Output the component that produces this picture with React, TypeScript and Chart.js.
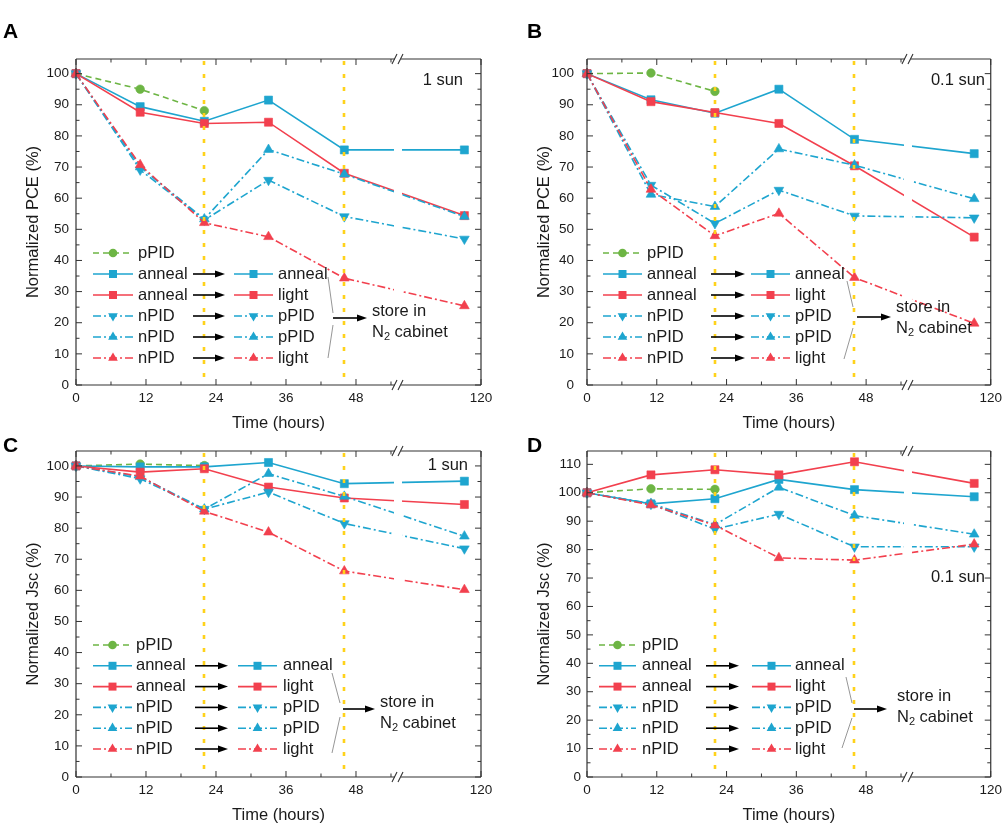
import React, { useEffect, useRef } from "react";
import { Chart, registerables } from "chart.js";
Chart.register(...registerables);

const FONT = "'Liberation Sans', Arial, Helvetica, sans-serif";
const BLUE = "#1EA5CF";
const RED = "#F2404E";
const GREEN = "#6DB544";
const YELLOW = "#FFD21A";
const INK = "#1a1a1a";

// ---------- data ----------
const TIME_H = [0, 11, 22, 33, 46, 118];
const TIME_PPID_H = [0, 11, 22];
const STORAGE_MARKS_H = [22, 46];
const X_TICK_HOURS = [0, 12, 24, 36, 48, 120];
const X_TICK_LABELS = ["0", "12", "24", "36", "48", "120"];
const X_MINOR_HOURS = [6, 18, 30, 42, 54];
const LEGEND_LEFT = ["pPID", "anneal", "anneal", "nPID", "nPID", "nPID"];
const LEGEND_RIGHT = ["", "anneal", "light", "pPID", "pPID", "light"];

// A: normalized PCE, 1 sun
const A_PPID = [100, 95.0, 88.1];
const A_ANNEAL_ANNEAL = [100, 89.4, 84.7, 91.5, 75.5, 75.5];
const A_ANNEAL_LIGHT = [100, 87.6, 84.0, 84.4, 68.0, 54.4];
const A_NPID_PPID_DOWN = [100, 69.1, 53.0, 65.8, 54.1, 46.9];
const A_NPID_PPID_UP = [100, 70.0, 53.3, 75.6, 67.7, 54.1];
const A_NPID_LIGHT = [100, 70.7, 52.1, 47.6, 34.3, 25.4];

// B: normalized PCE, 0.1 sun
const B_PPID = [100, 100.2, 94.3];
const B_ANNEAL_ANNEAL = [100, 91.6, 87.3, 95.0, 78.9, 74.3];
const B_ANNEAL_LIGHT = [100, 91.0, 87.5, 84.0, 70.4, 47.5];
const B_NPID_PPID_DOWN = [100, 64.2, 51.9, 62.6, 54.3, 53.7];
const B_NPID_PPID_UP = [100, 61.2, 57.3, 75.8, 70.6, 59.8];
const B_NPID_LIGHT = [100, 62.8, 47.9, 55.1, 34.5, 19.8];

// C: normalized Jsc, 1 sun
const C_PPID = [100, 100.6, 100.1];
const C_ANNEAL_ANNEAL = [100, 99.7, 99.7, 101.1, 94.3, 95.1];
const C_ANNEAL_LIGHT = [100, 98.0, 99.1, 93.2, 89.7, 87.6];
const C_NPID_PPID_DOWN = [100, 95.9, 86.1, 91.6, 81.5, 73.4];
const C_NPID_PPID_UP = [100, 96.5, 86.1, 97.5, 90.2, 77.4];
const C_NPID_LIGHT = [100, 96.7, 85.4, 78.7, 66.2, 60.2];

// D: normalized Jsc, 0.1 sun
const D_PPID = [100, 101.4, 101.2];
const D_ANNEAL_ANNEAL = [100, 96.1, 97.9, 104.7, 101.1, 98.6];
const D_ANNEAL_LIGHT = [100, 106.3, 108.1, 106.3, 110.9, 103.3];
const D_NPID_PPID_DOWN = [100, 96.0, 87.2, 92.5, 81.0, 81.0];
const D_NPID_PPID_UP = [100, 96.2, 88.8, 101.9, 92.0, 85.4];
const D_NPID_LIGHT = [100, 95.7, 88.6, 77.1, 76.3, 81.9];

// ---------- broken time axis ----------
const BREAK_DISPLAY = 55.2;
const SEG2_FROM = 110;
const SEG2_TO = 120;
const X_DISPLAY_MAX = 69.43;
function toAxis(t: number) {
  if (t <= BREAK_DISPLAY) return t;
  return BREAK_DISPLAY + ((t - SEG2_FROM) * (X_DISPLAY_MAX - BREAK_DISPLAY)) / (SEG2_TO - SEG2_FROM);
}

const SERIES_STYLE = [
  { color: GREEN, dash: [6, 4], marker: "circle" },
  { color: BLUE, dash: [], marker: "square" },
  { color: RED, dash: [], marker: "square" },
  { color: BLUE, dash: [8, 3, 2, 3], marker: "down" },
  { color: BLUE, dash: [8, 3, 2, 3], marker: "up" },
  { color: RED, dash: [8, 3, 2, 3], marker: "up" },
];

const PANELS = [
  {
    key: "A", left: 0, top: 0, w: 504, h: 440, plotL: 76, plotT: 59, plotR: 481, plotB: 385,
    yMax: 104.7, yTopTick: 100, yTitle: "Normalized PCE (%)", tickPad: 7, yTitlePad: 24,
    sun: "1 sun", sunX: 463, sunY: 80, letterX: 3, letterY: 38,
    lg: { y0: 253, dy: 21, s1: [93, 133], t1: 138, arr: [193, 225], s2: [234, 273], t2: 278,
      bu: [328, 277, 333, 313], bl: [333, 325, 328, 358], a2: [333, 367, 318], tx: 372, ty1: 311, ty2: 332 },
    series: [A_PPID, A_ANNEAL_ANNEAL, A_ANNEAL_LIGHT, A_NPID_PPID_DOWN, A_NPID_PPID_UP, A_NPID_LIGHT],
  },
  {
    key: "B", left: 504, top: 0, w: 503, h: 440, plotL: 83, plotT: 59, plotR: 489, plotB: 385,
    yMax: 104.7, yTopTick: 100, yTitle: "Normalized PCE (%)", tickPad: 13, yTitlePad: 31,
    sun: "0.1 sun", sunX: 481, sunY: 80, letterX: 23, letterY: 38,
    lg: { y0: 253, dy: 21, s1: [99, 138], t1: 143, arr: [207, 241], s2: [247, 286], t2: 291,
      bu: [343, 281, 349, 307], bl: [349, 328, 340, 359], a2: [353, 387, 317], tx: 392, ty1: 307, ty2: 328 },
    series: [B_PPID, B_ANNEAL_ANNEAL, B_ANNEAL_LIGHT, B_NPID_PPID_DOWN, B_NPID_PPID_UP, B_NPID_LIGHT],
  },
  {
    key: "C", left: 0, top: 410, w: 504, h: 419, plotL: 76, plotT: 41, plotR: 481, plotB: 367,
    yMax: 104.8, yTopTick: 100, yTitle: "Normalized Jsc (%)", tickPad: 7, yTitlePad: 24,
    sun: "1 sun", sunX: 468, sunY: 55, letterX: 3, letterY: 42,
    lg: { y0: 235, dy: 20.8, s1: [93, 132], t1: 136, arr: [195, 228], s2: [238, 277], t2: 283,
      bu: [332, 263, 340, 293], bl: [340, 307, 332, 343], a2: [343, 375, 299], tx: 380, ty1: 292, ty2: 313 },
    series: [C_PPID, C_ANNEAL_ANNEAL, C_ANNEAL_LIGHT, C_NPID_PPID_DOWN, C_NPID_PPID_UP, C_NPID_LIGHT],
  },
  {
    key: "D", left: 504, top: 410, w: 503, h: 419, plotL: 83, plotT: 41, plotR: 489, plotB: 367,
    yMax: 114.7, yTopTick: 110, yTitle: "Normalized Jsc (%)", tickPad: 6, yTitlePad: 31,
    sun: "0.1 sun", sunX: 481, sunY: 167, letterX: 23, letterY: 42,
    lg: { y0: 235, dy: 20.8, s1: [95, 132], t1: 138, arr: [202, 235], s2: [248, 287], t2: 291,
      bu: [342, 267, 348, 293], bl: [348, 308, 338, 338], a2: [350, 383, 299], tx: 393, ty1: 286, ty2: 307 },
    series: [D_PPID, D_ANNEAL_ANNEAL, D_ANNEAL_LIGHT, D_NPID_PPID_DOWN, D_NPID_PPID_UP, D_NPID_LIGHT],
  },
];

const X_AXIS_H = 50;
const LABEL_SIZE = 16.5;
const TICK_SIZE = 13.5;

function drawMarker(ctx: CanvasRenderingContext2D, kind: string, x: number, y: number, color: string) {
  ctx.save();
  ctx.fillStyle = color;
  ctx.setLineDash([]);
  ctx.beginPath();
  if (kind === "circle") {
    ctx.arc(x, y, 4.3, 0, Math.PI * 2);
  } else if (kind === "square") {
    ctx.rect(x - 4, y - 4, 8, 8);
  } else if (kind === "up") {
    const r = 5.6;
    ctx.moveTo(x, y - r);
    ctx.lineTo(x + r * 0.866, y + r / 2);
    ctx.lineTo(x - r * 0.866, y + r / 2);
    ctx.closePath();
  } else {
    const r = 5.6;
    ctx.moveTo(x, y + r);
    ctx.lineTo(x + r * 0.866, y - r / 2);
    ctx.lineTo(x - r * 0.866, y - r / 2);
    ctx.closePath();
  }
  ctx.fill();
  ctx.restore();
}

function drawSample(ctx: CanvasRenderingContext2D, i: number, x1: number, x2: number, y: number) {
  const st = SERIES_STYLE[i];
  ctx.save();
  ctx.strokeStyle = st.color;
  ctx.lineWidth = 1.6;
  ctx.setLineDash(st.dash);
  ctx.beginPath();
  ctx.moveTo(x1, y);
  ctx.lineTo(x2, y);
  ctx.stroke();
  ctx.restore();
  drawMarker(ctx, st.marker, (x1 + x2) / 2, y, st.color);
}

function drawArrow(ctx: CanvasRenderingContext2D, x1: number, x2: number, y: number) {
  ctx.save();
  ctx.strokeStyle = "#000";
  ctx.fillStyle = "#000";
  ctx.lineWidth = 1.6;
  ctx.setLineDash([]);
  ctx.beginPath();
  ctx.moveTo(x1, y);
  ctx.lineTo(x2 - 8, y);
  ctx.stroke();
  ctx.beginPath();
  ctx.moveTo(x2, y);
  ctx.lineTo(x2 - 10, y - 3.5);
  ctx.lineTo(x2 - 10, y + 3.5);
  ctx.closePath();
  ctx.fill();
  ctx.restore();
}

function makePlugin(p: any) {
  return {
    id: "panelDeco" + p.key,
    afterDatasetsDraw(chart: any) {
      const { ctx, chartArea: ca } = chart;
      const x = chart.scales.x;
      const y = chart.scales.y;
      ctx.save();
      // storage marks (dotted yellow)
      ctx.strokeStyle = YELLOW;
      ctx.lineWidth = 2.6;
      ctx.setLineDash([4, 9]);
      for (const t of STORAGE_MARKS_H) {
        const px = Math.round(x.getPixelForValue(toAxis(t)));
        ctx.beginPath();
        ctx.moveTo(px, ca.top + 2);
        ctx.lineTo(px, ca.bottom);
        ctx.stroke();
      }
      ctx.setLineDash([]);
      // axis break mask
      const bx = x.getPixelForValue(BREAK_DISPLAY);
      ctx.fillStyle = "#fff";
      ctx.fillRect(bx - 4, ca.top + 1, 8, ca.bottom - ca.top - 2);
      // frame
      ctx.strokeStyle = "#333";
      ctx.lineWidth = 1.2;
      ctx.beginPath();
      ctx.moveTo(ca.left, ca.top);
      ctx.lineTo(ca.left, ca.bottom);
      ctx.moveTo(ca.right, ca.top);
      ctx.lineTo(ca.right, ca.bottom);
      for (const yy of [ca.top, ca.bottom]) {
        ctx.moveTo(ca.left, yy);
        ctx.lineTo(bx - 3, yy);
        ctx.moveTo(bx + 3, yy);
        ctx.lineTo(ca.right, yy);
      }
      ctx.stroke();
      // break slashes
      ctx.lineWidth = 1.1;
      ctx.beginPath();
      for (const yy of [ca.top, ca.bottom]) {
        ctx.moveTo(bx - 6, yy + 5);
        ctx.lineTo(bx - 1, yy - 5);
        ctx.moveTo(bx, yy + 5);
        ctx.lineTo(bx + 5, yy - 5);
      }
      ctx.stroke();
      // inward ticks
      ctx.lineWidth = 1;
      ctx.beginPath();
      const xt = (h: number, len: number) => {
        const px = x.getPixelForValue(toAxis(h));
        ctx.moveTo(px, ca.bottom);
        ctx.lineTo(px, ca.bottom - len);
        ctx.moveTo(px, ca.top);
        ctx.lineTo(px, ca.top + len);
      };
      X_TICK_HOURS.forEach((h) => xt(h, 6));
      X_MINOR_HOURS.forEach((h) => xt(h, 3.5));
      for (let v = 0; v <= p.yMax; v += 5) {
        const py = y.getPixelForValue(v);
        const len = v % 10 === 0 ? 6 : 3.5;
        ctx.moveTo(ca.left, py);
        ctx.lineTo(ca.left + len, py);
        ctx.moveTo(ca.right, py);
        ctx.lineTo(ca.right - len, py);
      }
      ctx.stroke();
      ctx.restore();
    },
    afterDraw(chart: any) {
      const { ctx } = chart;
      const lg = p.lg;
      ctx.save();
      ctx.fillStyle = INK;
      ctx.textBaseline = "middle";
      ctx.textAlign = "left";
      ctx.font = `${LABEL_SIZE}px ${FONT}`;
      for (let i = 0; i < 6; i++) {
        const yy = lg.y0 + i * lg.dy;
        drawSample(ctx, i, lg.s1[0], lg.s1[1], yy);
        ctx.fillStyle = INK;
        ctx.fillText(LEGEND_LEFT[i], lg.t1, yy);
        if (LEGEND_RIGHT[i]) {
          drawArrow(ctx, lg.arr[0], lg.arr[1], yy);
          drawSample(ctx, i, lg.s2[0], lg.s2[1], yy);
          ctx.fillStyle = INK;
          ctx.fillText(LEGEND_RIGHT[i], lg.t2, yy);
        }
      }
      // bracket
      ctx.strokeStyle = "#8a8a8a";
      ctx.lineWidth = 0.9;
      ctx.beginPath();
      ctx.moveTo(lg.bu[0], lg.bu[1]);
      ctx.lineTo(lg.bu[2], lg.bu[3]);
      ctx.moveTo(lg.bl[0], lg.bl[1]);
      ctx.lineTo(lg.bl[2], lg.bl[3]);
      ctx.stroke();
      drawArrow(ctx, lg.a2[0], lg.a2[1], lg.a2[2]);
      ctx.fillStyle = INK;
      ctx.font = `${LABEL_SIZE}px ${FONT}`;
      ctx.fillText("store in", lg.tx, lg.ty1);
      const wN = ctx.measureText("N").width;
      ctx.fillText("N", lg.tx, lg.ty2);
      ctx.font = `11px ${FONT}`;
      ctx.fillText("2", lg.tx + wN, lg.ty2 + 5);
      const w2 = ctx.measureText("2").width;
      ctx.font = `${LABEL_SIZE}px ${FONT}`;
      ctx.fillText(" cabinet", lg.tx + wN + w2, lg.ty2);
      // illumination label
      ctx.textAlign = "right";
      ctx.fillText(p.sun, p.sunX, p.sunY);
      // panel letter
      ctx.textAlign = "left";
      ctx.textBaseline = "alphabetic";
      ctx.font = `bold 21px ${FONT}`;
      ctx.fillStyle = "#000";
      ctx.fillText(p.key, p.letterX, p.letterY);
      ctx.restore();
    },
  };
}

function buildConfig(p: any): any {
  const datasets = p.series.map((vals: number[], i: number) => {
    const st = SERIES_STYLE[i];
    const times = i === 0 ? TIME_PPID_H : TIME_H;
    const ps = st.marker === "circle" ? "circle" : st.marker === "square" ? "rect" : "triangle";
    const radius = st.marker === "circle" ? 4.3 : st.marker === "square" ? 5.7 : 5.6;
    return {
      label: LEGEND_LEFT[i] + " → " + LEGEND_RIGHT[i],
      data: vals.map((v, k) => ({ x: toAxis(times[k]), y: v })),
      borderColor: st.color,
      backgroundColor: st.color,
      borderWidth: 1.6,
      borderDash: st.dash,
      pointStyle: ps,
      pointRadius: radius,
      pointRotation: st.marker === "down" ? 180 : 0,
      pointBackgroundColor: st.color,
      pointBorderColor: st.color,
      pointBorderWidth: 0.6,
      fill: false,
      tension: 0,
      clip: false,
      order: -i,
    };
  });
  const yTicks: number[] = [];
  for (let v = 0; v <= p.yTopTick; v += 10) yTicks.push(v);
  return {
    type: "line",
    data: { datasets },
    options: {
      animation: false,
      responsive: false,
      maintainAspectRatio: false,
      events: [],
      layout: {
        padding: { left: 0, top: p.plotT, right: p.w - p.plotR, bottom: p.h - p.plotB - X_AXIS_H },
      },
      plugins: { legend: { display: false }, tooltip: { enabled: false }, title: { display: false } },
      scales: {
        x: {
          type: "linear",
          min: 0,
          max: X_DISPLAY_MAX,
          grid: { display: false, drawTicks: false },
          border: { display: false },
          afterBuildTicks: (s: any) => {
            s.ticks = X_TICK_HOURS.map((h) => ({ value: toAxis(h) }));
          },
          afterFit: (s: any) => {
            s.height = X_AXIS_H;
          },
          ticks: {
            autoSkip: false,
            maxRotation: 0,
            minRotation: 0,
            padding: 5,
            color: INK,
            font: { family: FONT, size: TICK_SIZE },
            callback: (_v: any, idx: number) => X_TICK_LABELS[idx],
          },
          title: {
            display: true,
            text: "Time (hours)",
            color: INK,
            font: { family: FONT, size: LABEL_SIZE, lineHeight: 1.2 },
            padding: { top: 0, bottom: 2 },
          },
        },
        y: {
          type: "linear",
          min: 0,
          max: p.yMax,
          grid: { display: false, drawTicks: false },
          border: { display: false },
          afterBuildTicks: (s: any) => {
            s.ticks = yTicks.map((v) => ({ value: v }));
          },
          afterFit: (s: any) => {
            s.width = p.plotL;
          },
          ticks: {
            padding: p.tickPad,
            color: INK,
            font: { family: FONT, size: TICK_SIZE },
          },
          title: {
            display: true,
            text: p.yTitle,
            color: INK,
            font: { family: FONT, size: LABEL_SIZE, lineHeight: 1.2 },
            padding: { top: p.yTitlePad, bottom: 0 },
          },
        },
      },
    },
    plugins: [makePlugin(p)],
  };
}

function Panel({ p }: { p: any }) {
  const ref = useRef<HTMLCanvasElement | null>(null);
  useEffect(() => {
    if (!ref.current) return;
    const chart = new Chart(ref.current, buildConfig(p));
    return () => chart.destroy();
  }, [p]);
  return (
    <canvas
      ref={ref}
      width={p.w}
      height={p.h}
      style={{ position: "absolute", left: p.left, top: p.top, width: p.w, height: p.h, display: "block" }}
    />
  );
}

export default function App() {
  return (
    <div
      style={{
        position: "absolute",
        left: 0,
        top: 0,
        width: 1007,
        height: 829,
        background: "#fff",
        overflow: "hidden",
      }}
    >
      {PANELS.map((p) => (
        <Panel key={p.key} p={p} />
      ))}
    </div>
  );
}
